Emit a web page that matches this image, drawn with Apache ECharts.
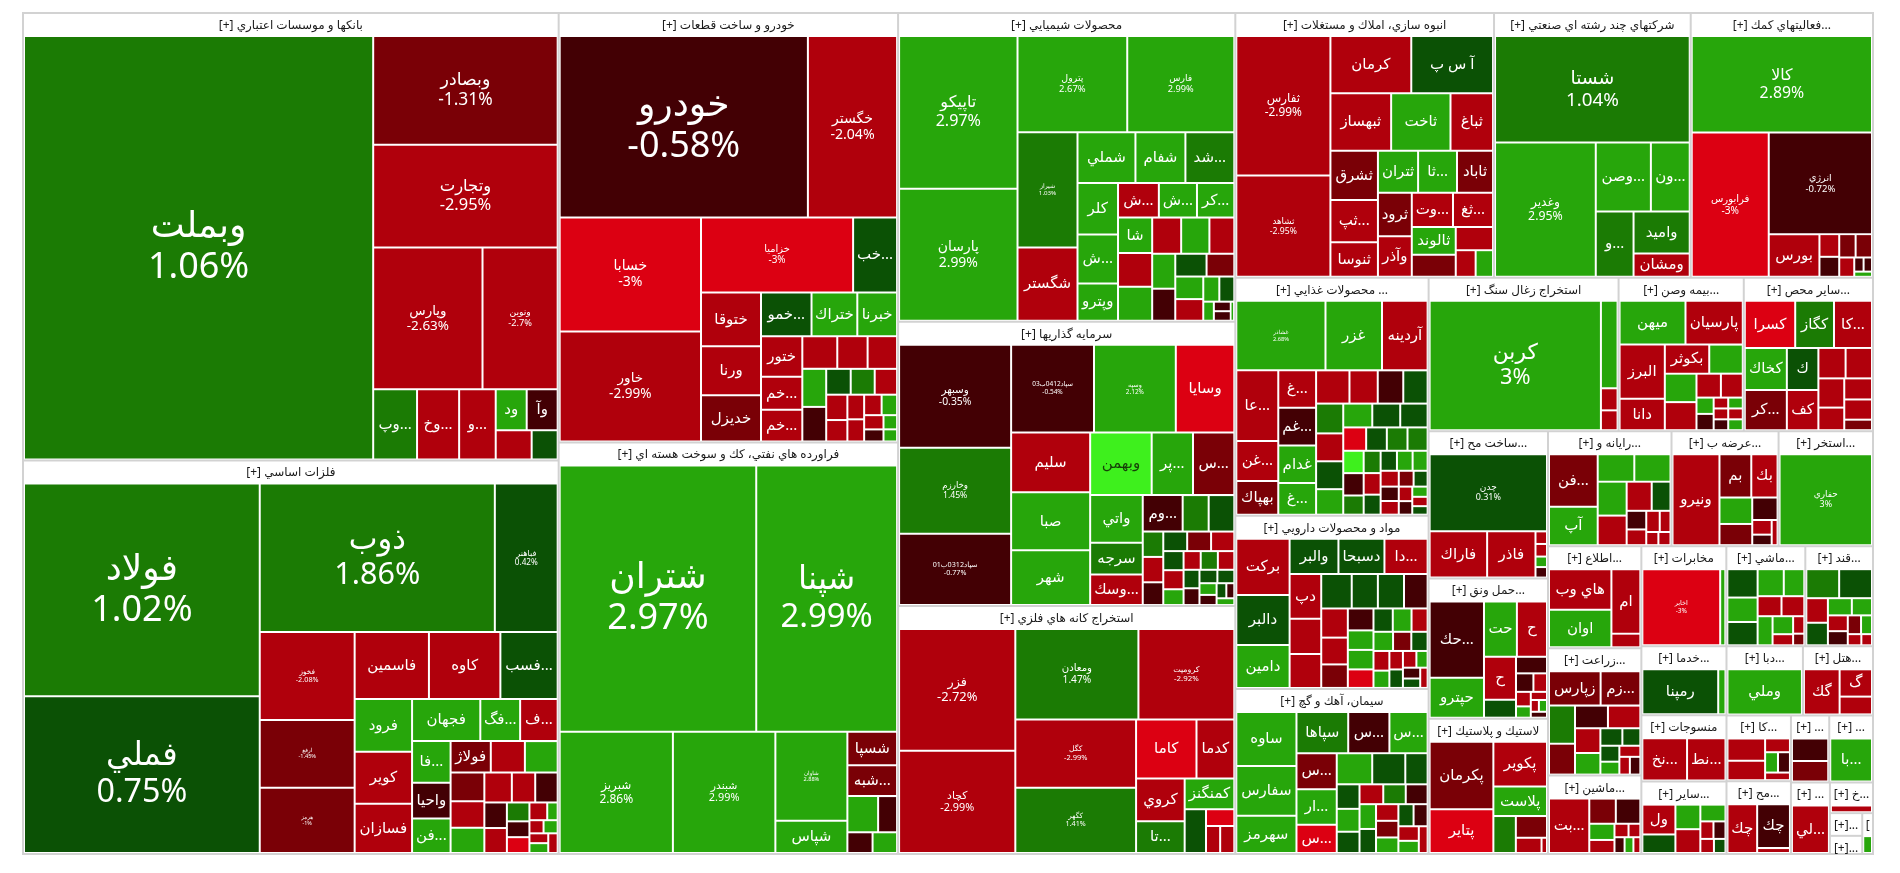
<!DOCTYPE html>
<html>
<head>
<meta charset="utf-8">
<script src="https://cdn.jsdelivr.net/npm/echarts/dist/echarts.min.js"></script>
<style>
html,body{margin:0;padding:0;background:#ffffff;}
#chart{width:1900px;height:873px;}
</style>
</head>
<body>
<div id="chart"></div>
<script>
const sectorNames = [
  'بانكها و موسسات اعتباري',
  'فلزات اساسي',
  'خودرو و ساخت قطعات',
  'فراورده هاي نفتي، كك و سوخت هسته اي',
  'محصولات شيميايي',
  'سرمايه گذاريها',
  'استخراج كانه هاي فلزي',
  'انبوه سازي، املاك و مستغلات',
  'شركتهاي چند رشته اي صنعتي',
  'فعاليتهاي كمكي به نهادهاي مالي واسط',
  'محصولات غذايي و آشاميدني به جز قند و شكر',
  'مواد و محصولات دارويي',
  'سيمان، آهك و گچ',
  'استخراج زغال سنگ',
  'بيمه وصندوق بازنشستگي به جزتامين اجتماعي',
  'ساير محصولات كاني غيرفلزي',
  'ساخت محصولات فلزي',
  'حمل ونقل، انبارداري و ارتباطات',
  'لاستيك و پلاستيك',
  'رايانه و فعاليتهاي وابسته به آن',
  'عرضه برق، گاز، بخاروآب گرم',
  'استخراج نفت گاز و خدمات جنبي جز اكتشاف',
  'اطلاعات و ارتباطات',
  'زراعت و خدمات وابسته',
  'ماشين آلات و تجهيزات',
  'مخابرات',
  'ماشين آلات و دستگاههاي برقي',
  'قند و شكر',
  'خدمات فني و مهندسي',
  'منسوجات',
  'ساير واسطه گريهاي مالي',
  'دباغي، پرداخت چرم و ساخت انواع پاپوش',
  'هتل و رستوران',
  'كاشي و سراميك',
  'محصولات كاغذي',
  'انتشار، چاپ و تكثير',
  'فعاليت هاي هنري، سرگرمي و خلاقانه',
  'خدمات مالي و ليزينگ',
  'خرده فروشي، باستثناي وسايل نقليه موتوري',
  'كشاورزي و دامپروري',
  'انبارداري',
  'پيمانكاري'
];

const stockNames = [
  ['وبملت','وبصادر','وتجارت','وپارس','ونوين','وپاسار','وخاور','وسينا','ودي','وآينده','وسرمايه','وزمين'],
  ['فولاد','فملي','ذوب','فباهنر','فخوز','ارفع','هرمز','فاسمين','كاوه','فسبزوار','فرود','كوير','فسازان','فجهان','فگستر','فنوال','فالوم','واحيا','فنورد','فولاژ','فسرب','فروي','فلامي','فايرا','فاما','فكا','فمراد','فوكا','فصبا','فسديد','فتوسا','فزرين','فجر','فافق','فرابو','فسوژ','فپنتا','فغدير','فاراز','فكور'],
  ['خودرو','خگستر','خسابا','خاور','خزاميا','خبهمن','ختوقا','ورنا','خديزل','خموتور','ختراك','خبرنا','ختور','خمحركه','خمحور','خكاوه','خچرخش','خفنر','خريخت','خرينگ','خصدرا','خكمك','خاذين','خپارس','خنصير','خلنت','خودكفا','خشرق','خزر','خكار','خوساز','خفولا','خاهن'],
  ['شتران','شپنا','شبريز','شبندر','شاوان','شپاس','شسپا','شبهرن','شنفت','شكلر','شتهران','شدياك'],
  ['تاپيكو','پارسان','پترول','فارس','شيراز','شگستر','شملي','شفام','شدوص','كلر','شصدف','وپترو','شپديس','شخارك','كرماشا','شاراك','شكربن','شتوكا','شبصير','شسينا','شفن','شپاكسا','شلعاب','شسم','شرانل','شكام','شجم','شزنگ','شغدير','شاملا','شفارس','شوينده','شرنگي'],
  ['وسبهر','وخارزم','سپاد0312ب01','سپاد0412ب03','وسپه','وسايا','سليم','صبا','شهر','وبهمن','پرديس','ستران','واتي','سرجه','وسكاب','ومهان','ولتجار','وكغدير','وتوسم','ولساپا','وسبحان','ونفت','وكبهمن','وگستر','وسمنان','وآفري','وسالت','وسديد','وكار','وسين','وسكرد','وسپهر','وسنا','وبشهر','ومدير','وكرمان','وپويا','وساخت','واعتبار'],
  ['فزر','كچاد','ومعادن','كروميت','كگل','كگهر','كاما','كدما','كروي','تاصيكو','كمنگنز','كطبس','كبافق','كنور','كبورس'],
  ['ثفارس','ثشاهد','كرمان','آ س پ','ثبهساز','ثاخت','ثباغ','ثشرق','ثپرديس','ثنوسا','ثتران','ثامان','ثاباد','ثرود','وآذر','وتوشه','ثغرب','ثالوند','ثعمرا','ثمسكن','ثجنوب','ثزاگرس'],
  ['شستا','وغدير','وصندوق','ونيكي','وبانك','واميد','ومشان'],
  ['كالا','فرابورس','انرژي','بورس','اميد','افق','اطلس','آرمان','سپيدار','تمدن','مفيد','كارا'],
  ['غشاذر','غزر','آردينه','عاليس','غنوش','بهپاك','غگرجي','غمارگ','غدام','غشان','غپاك','غچين','غسالم','غبهنوش','غالبر','غكورش','غويتا','غدشت','غشصفا','غپينو','غمينو','غلپيرا','غبشهر','غاذر','غشهد','غفارس','غناب','غصينو','غپآذر','غيوان','غمهرا','غتوس','غسينا','غزاگرس','غشوكو','غرفاه','غكاشان','غبهار','غشيراز','غدانه','غگلپا','غفجر','غزنگ','غكوثر'],
  ['بركت','دالبر','دامين','والبر','دسبحا','داسوه','دپارس','دفارا','دكوثر','دتماد','دلر','دجابر','دعبيد','دسينا','دكيمي','دزهراوي','دشيمي','داوه','دفرا','درازك','دتوليد','دپخش','ددام','دكپسول','دروز','دقاضي','دحاوي','دارو','دهدشت','دتهران','دبالك','ديران','دكيش','دمهر','دلقما'],
  ['ساوه','سفارس','سهرمز','سپاها','سخزر','سشمال','سصوفي','اردستان','سكرما','سدشت','سشرق','سغرب','سبهان','سيلام','سكرد','سفار','سمتاز','سبجنو','ساربيل','سخاش','سنير','سقاين','سيستان','سدور','سبزوا','سارود','سفانو','سمازن'],
  ['كربن','كزغال','كپرور','كهمدا'],
  ['ميهن','پارسيان','البرز','دانا','بكوثر','بپاس','اتكاي','آسيا','بمولوي','بنو','اتكام','ما','معلم','ملت','حافظ','سرمد','تعاون','رازي'],
  ['كسرا','كگاز','كاسپين','كخاك','كرازي','كساوه','كفرآور','كباده','كلوند','كصدف','كتوكا','كمرجان','كفپارس','كايتا'],
  ['چدن','فاراك','فاذر','فسا','فتوس','فجام','فروسيل'],
  ['حكشتي','حپترو','حتايد','حفارس','حسينا','حآسا','حريل','حتوكا','حخزر','حسير','حپارسا','حاسا','حبندر','حشكوه','حگهر'],
  ['پكرمان','پتاير','پكوير','پلاست','پارس','پسهند','پدرخش','پاكشو'],
  ['فن افزار','آپ','مداران','سيستم','ماهان','رتكو','اپرداز','رانفور','فنرژي','پرداخت','تاپ','سپ','همكاران','نوين'],
  ['ونيرو','بمپنا','بكهنوج','بزاگرس','تابا','بجهرم','بفجر','بسويچ','بگيلان'],
  ['حفاري'],
  ['هاي وب','اوان','امين','انتخاب'],
  ['زپارس','زماهان','زكوثر','زشريف','زفكا','زمگسا','زدشت','زگلدشت','زبينا','زشگزا','زنگان','زقيام','زفجر','زملارد','زاگرس'],
  ['بترانس','تمحركه','تكشا','تكمبا','تشكا','تاوان','توريل','تپولا','تايد','تارن'],
  ['اخابر','همراه'],
  ['بشهاب','بالبر','بنيرو','بايكا','لخزر','لابسا','لوتوس','پارتا','بسوپا','برقاب','بكام','بافق'],
  ['قثابت','قشكر','قنيشا','قزوين','قلرست','قهكمت','قمرو','قاسم','قشهد','قصفها','قپيرا','قچار'],
  ['رمپنا','ركيش'],
  ['نخريس','نطرين'],
  ['ولملت','ولصنم','ولكار','ولپارس','ولغدر','ولشرق','ولبهمن','ولسينا','ولتوسعه'],
  ['وملي'],
  ['گكيش','گشان','گدنا'],
  ['كسعدي','كنيلو','كسرام','كبافت','كحافظ','كپارس'],
  ['چكاپا','چكارن','چفيبر'],
  ['اچاپ','نشر'],
  ['بالاسر'],
  ['لياپان'],
  ['خرده'],
  ['زاگرو'],
  ['انبار'],
  ['پيمان']
];

const stockValues = [
  [1069,145,137,112,77,22.3,21.4,18.6,9.2,9.2,7.6,5.5],
  [365.6,269.1,254.4,68.0,60.8,46.8,45.2,36.3,34.9,28.0,22.0,21.8,20.6,20.9,12.2,11.5,11.7,10.0,9.7,9.2,7.8,7.5,7.1,6.5,6.2,6.0,5.1,4.9,4.2,4.1,3.1,2.6,2.6,2.3,1.35,1.35,1.35,1.35,1.35,1.35],
  [327,117.5,117,113,83,24,23.4,21.3,20.2,16,14.5,12.6,12.2,9.9,9.5,8.3,7.2,7.0,6.6,6.0,4.6,4.5,4.2,3.9,3.3,3.0,2.7,2.6,2.3,2.0,1.7,1.4,1.2],
  [381,273,100,90.5,46.7,16.9,12.1,11.2,8.1,5.0,3.8,3.7],
  [134.4,116.3,78.6,76.7,51.3,32.7,21.8,18.8,18.4,15.5,14.8,11.2,10.5,9.8,9.6,9.0,8.6,8.6,7.8,7.6,6.7,6.0,5.5,5.3,4.7,4.7,4.5,3.0,2.8,1.5,1.2,1.2,0.5],
  [86.4,72.1,59.9,54.4,53.7,38.4,35.4,34.4,32.4,28.9,19.4,19.4,18.8,12.5,12.0,10.9,7.1,7.0,3.9,3.9,3.5,3.5,3.5,3.4,2.9,2.9,2.4,2.4,2.4,2.3,2.2,2.0,1.8,1.7,1.5,1.3,1.1,0.9,0.9],
  [107.4,90.2,84.6,65.9,62.4,59.9,27.0,16.9,15.8,11.7,11.6,7.1,3.6,2.9,2.9],
  [99.1,72.1,35.0,35.4,26.4,25.8,18.5,17.6,15.2,12.4,12.7,12.3,11.4,11.1,10.4,10.7,10.4,9.2,7.3,6.5,4.0,3.5],
  [156.9,102.5,28.8,20.3,18.7,17.9,9.9],
  [131.9,84.2,79.5,16.4,3.4,3.0,2.9,2.9,2.2,1.0,0.9,0.7],
  [47.5,30.1,24.3,22.7,12.9,10.8,10.8,11.0,10.8,9.2,8.5,7.2,6.5,6.2,6.2,5.8,5.8,5.3,5.3,5.1,5.0,4.1,3.7,3.7,3.6,3.5,3.5,3.0,2.9,2.8,2.6,2.5,2.4,2.3,2.2,2.0,1.9,1.8,1.7,1.5,1.4,1.2,1.1,1.0],
  [24.0,21.3,18.3,13.8,13.0,12.2,11.3,8.9,8.6,8.4,7.2,7.2,6.5,6.2,5.7,5.0,4.5,4.0,4.0,3.8,3.6,3.5,3.0,3.0,2.8,2.5,2.5,2.2,2.0,2.0,1.8,1.5,1.5,1.3,1.2],
  [26.2,24.1,18.1,17.2,13.7,12.7,11.7,11.5,9.2,8.9,8.3,5.6,4.5,4.2,3.9,3.8,3.6,3.5,3.3,3.2,3.0,3.0,2.8,2.7,2.5,2.4,2.0,1.9],
  [181,11.9,3.0,2.7],
  [23.7,20.6,20.1,11.7,10.6,8.0,7.4,7.3,4.8,4.3,2.3,2.3,1.3,1.3,1.3,1.3,1.3,1.3],
  [19.5,15.0,14.7,14.5,13.9,10.9,10.4,6.8,6.6,6.2,4.8,4.8,4.6,2.4],
  [75,22,18.5,1.2,1.2,1.0,1.0],
  [34.6,18.2,15.2,13.9,11.5,4.8,4.3,2.7,2.1,1.8,1.4,1.1,0.8,0.8,0.8],
  [36.3,23.5,20.3,13.3,7.0,5.7,3.3,0.7],
  [22.4,16.4,8.8,8.7,8.6,7.5,6.4,4.8,3.2,2.7,2.5,2.0,1.4,1.4],
  [37.5,12.1,10.0,7.6,6.1,5.0,2.5,1.8,1.3],
  [74],
  [23.0,21.4,17.0,3.6],
  [15.2,11.7,8.5,6.9,6.4,6.3,5.4,4.7,3.3,2.7,2.6,2.1,2.0,1.6,1.6],
  [22.0,6.7,6.2,4.1,3.3,1.9,1.6,1.6,1.4,1.1],
  [54.4,3.6],
  [7.9,6.8,6.5,6.5,5.1,4.4,4.2,4.0,3.4,2.1,1.8,1.2],
  [8.8,8.8,4.9,4.5,3.8,3.2,2.9,2.6,2.3,1.9,1.4,1.1],
  [36.5,3.5],
  [20.7,17.8],
  [10.3,6.4,6.4,6.2,4.4,2.4,2.2,2.0,1.7],
  [36],
  [17.3,9.5,6.2],
  [9.3,8.1,3.8,2.9,2.7,2.1],
  [15.2,15.1,1.7],
  [9.2,8.3],
  [20],
  [19],
  [9],
  [5],
  [4],
  [3]
];

const stockChanges = [
  [1.06,-1.31,-2.95,-2.63,-2.7,1.52,-2.48,-2.61,2.41,-0.62,-2.35,0.55],
  [1.02,0.75,1.86,0.42,-2.08,-1.45,-1,-2.62,-2.48,0.6,2.4,-2.3,-2.5,2.7,2.2,-2.4,2.6,-0.5,2.3,-1.6,-2.4,2.5,-1.5,-2.6,2.1,-2.2,-2.4,-0.6,-0.8,-2.3,1.5,-0.4,-3,-2.2,2.5,-2.3,2.6,-2.1,2.2,-2.4],
  [-0.58,-2.04,-3,-2.99,-3,0.6,-2.5,-2.6,-1.5,0.7,2.4,2.6,-2.4,-2.5,-2.3,-2.5,-2.4,-2.6,2.7,-0.6,0.5,1.5,-2.4,-2.2,-2.5,-2.5,-2.3,-2.4,2.5,-2.6,-0.6,2.6,2.4],
  [2.97,2.99,2.86,2.99,2.88,2.5,-1.6,-1.4,2.2,-0.7,-0.5,2.3],
  [2.97,2.99,2.67,2.99,1.03,-2.5,2.6,2.4,1.3,2.7,2.3,2.5,-2.4,2.6,2.2,2.5,-2.5,2.3,-2.3,2.4,-2.6,2.1,-0.6,0.5,-1.4,2.2,-2.2,2.3,0.4,2.5,-0.5,-0.8,2.1],
  [-0.35,1.45,-0.77,-0.54,2.12,-3,-2.5,2.4,2.6,4.6,2.3,-1.5,2.5,1.3,-2.4,-0.6,1.2,0.5,1.4,-2.4,-0.5,0.6,-1.5,-2.3,0.5,-2.6,2.4,-2.2,1.3,-2.5,0.6,-0.5,0.4,0.5,2.3,-0.7,0.3,-0.6,2.2],
  [-2.72,-2.99,1.47,-2.92,-2.99,1.41,-3,-2.6,-2.5,1.3,2.5,0.4,-3,-2.4,-2.3],
  [-2.99,-2.95,-2.5,0.5,-2.4,2.5,-2.6,-1.5,-2.4,-2.5,2.4,2.6,-1.3,-1.6,-2.5,-2.3,-2.4,2.3,-1.4,-2.5,-2.3,2.4],
  [1.04,2.95,2.4,2.5,1.2,1.3,-2.4],
  [2.89,-3,-0.72,-2.5,-2.4,-0.6,-1.5,-1.4,-2.3,-0.5,-0.7,2.2],
  [2.68,2.5,-2.5,-2.4,-2.5,-1.5,-2.3,-0.6,2.4,2.5,-2.4,-2.5,-0.5,0.5,1.2,-2.4,0.6,2.4,2.3,0.4,0.5,-3,0.5,1.3,1.4,4.0,-0.6,1.3,1.4,-2.4,0.6,0.5,2.3,2.4,-2.5,-0.5,-2.3,-1.5,0.4,-2.4,-0.6,2.5,-2.2,0.5],
  [-2.5,0.6,2.5,0.5,0.6,-2.4,-2.5,-2.3,-2.4,0.5,0.6,0.5,-0.6,-2.4,-2.5,-1.5,-0.6,2.5,2.4,-3,0.5,2.3,-2.4,2.5,-1.4,0.6,-2.5,2.4,-2.3,0.5,-2.6,2.3,-0.5,0.4,-2.3],
  [2.5,2.6,2.4,1.3,-0.6,2.5,-1.5,2.4,-3,2.3,0.5,0.6,0.5,2.4,0.6,-2.4,1.3,-0.6,2.5,0.4,-2.5,-1.5,2.3,0.5,-0.5,-2.4,2.2,-2.6],
  [3,2.3,-2.4,-2.5],
  [2.5,-2.5,-2.4,-2.5,-2.3,2.4,2.5,-2.4,-2.5,-2.3,2.3,-0.6,-2.4,2.5,-2.2,-0.5,-2.5,2.4],
  [-3,1.3,-2.5,2.5,-1.5,0.5,-2.4,-2.3,-2.5,-2.4,-2.6,-2.3,-2.5,-1.4],
  [0.31,-2.5,-2.4,-2.3,-2.5,2.4,-0.6],
  [-0.6,2.5,2.4,-2.5,-2.4,0.5,-0.5,-0.6,-2.3,-2.5,2.4,-2.2,-2.5,2.3,-0.6],
  [-1.5,-3,-2.5,2.5,1.3,-1.4,-2.4,-2.5],
  [-1.6,2.5,2.4,2.3,2.5,-2.4,-2.5,0.5,-0.6,-2.4,-2.3,-2.5,-2.6,-2.2],
  [-2.4,-1.5,-2.5,2.4,-1.4,-0.6,-2.3,-0.5,-2.4],
  [3],
  [-2.5,2.5,-2.4,-2.3],
  [-1.5,-1.4,1.3,-1.6,-0.6,-2.4,-2.5,2.4,0.5,0.4,0.6,2.3,-2.3,-2.5,-0.6],
  [-2.4,-1.5,-0.6,2.3,-2.5,-2.3,-2.4,-0.5,2.4,-2.5],
  [-3,2.4],
  [0.5,2.5,0.6,2.4,2.3,-2.4,-2.5,2.5,2.4,-2.3,-2.6,-1.5],
  [1.3,0.5,-2.4,0.6,2.4,2.5,-2.3,-0.6,-1.5,2.3,-2.4,-2.5],
  [0.5,2.4],
  [-2.5,-2.4],
  [-2.4,0.6,2.5,-2.5,2.4,-2.3,-0.6,-2.5,0.5],
  [2.5],
  [-2.5,-2.4,-2.6],
  [-2.5,-2.4,-2.3,2.4,-0.6,-2.2],
  [-2.5,-0.6,-2.3],
  [-0.6,-1.5],
  [2.5],
  [-2.4],
  [-2.4],
  [-0.5],
  [-2.4],
  [2.3]
];

const FONT = "'Noto Sans', 'DejaVu Sans', sans-serif";

function colorFor(p) {
  if (p > 3.2) return '#3ef01d';
  if (p >= 2) return '#27a60b';
  if (p >= 1) return '#1b7b04';
  if (p > 0) return '#0b5105';
  if (p > -1) return '#430004';
  if (p > -2) return '#7a0006';
  if (p > -3) return '#b0000c';
  return '#dc0012';
}
function fmtPct(p) { return parseFloat(p.toFixed(2)) + '%'; }

const data = sectorNames.map(function (s, i) {
  return {
    name: s,
    children: stockNames[i].map(function (n, j) {
      const v = stockValues[i][j];
      const p = stockChanges[i][j];
      const big = v >= 40;
      const fs = big ? Math.max(5, Math.min(36, v * 0.12)) : 15;
      return {
        name: n,
        value: v,
        pct: p,
        itemStyle: { color: colorFor(p) },
        label: {
          show: v >= 9,
          fontSize: fs,
          lineHeight: Math.round(fs * 1.15),
          color: p > 3.2 ? '#163d08' : '#ffffff'
        }
      };
    })
  };
});

const chart = echarts.init(document.getElementById('chart'), null, { renderer: 'canvas' });
chart.setOption({
  animation: false,
  tooltip: { show: false },
  series: [{
    type: 'treemap',
    left: 22, top: 12, right: 26, bottom: 18,
    roam: false,
    nodeClick: false,
    drillDownIcon: '',
    breadcrumb: { show: false },
    sort: false,
    squareRatio: 1,
    visibleMin: 1,
    label: {
      show: true,
      position: 'inside',
      align: 'center',
      verticalAlign: 'middle',
      padding: 2,
      color: '#fff',
      fontFamily: FONT,
      overflow: 'truncate',
      ellipsis: '...',
      formatter: function (p) {
        const d = p.data || {};
        if (d.pct === undefined) return p.name;
        return d.value >= 40 ? p.name + '\n' + fmtPct(d.pct) : p.name;
      }
    },
    upperLabel: {
      show: true,
      height: 23,
      color: '#1a1a1a',
      fontSize: 12,
      fontFamily: FONT,
      position: 'inside',
      align: 'center',
      verticalAlign: 'middle',
      formatter: '[+] {b}'
    },
    levels: [
      { itemStyle: { borderColor: '#d2d2d2', borderWidth: 2, gapWidth: 2 }, upperLabel: { show: false } },
      { itemStyle: { color: '#ffffff', borderColor: '#ffffff', borderWidth: 1, gapWidth: 2 }, upperLabel: { show: true } },
      { itemStyle: { borderWidth: 0, gapWidth: 0 }, upperLabel: { show: false } }
    ],
    emphasis: { disabled: true },
    data: data
  }]
});
</script>
</body>
</html>
